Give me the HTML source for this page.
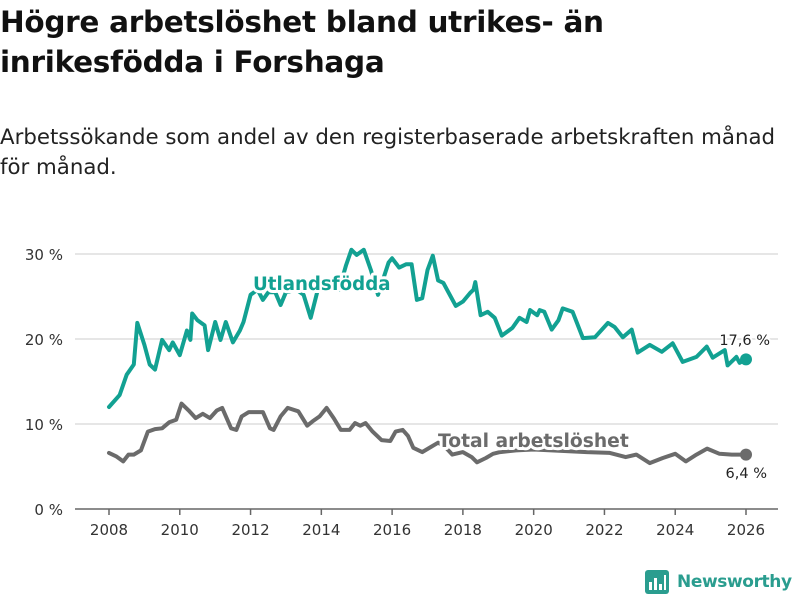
<!DOCTYPE html>
<html><head><meta charset="utf-8"><style>
body{margin:0;background:#fff;font-family:"Liberation Sans","DejaVu Sans",sans-serif;color:#111}
.t{position:absolute;left:0;top:2px;font-family:"DejaVu Sans",sans-serif;font-weight:bold;font-size:29.5px;line-height:40px;letter-spacing:-0.3px;white-space:nowrap}
.s{position:absolute;left:0;top:123px;font-family:"DejaVu Sans",sans-serif;font-size:21.3px;line-height:30px;color:#222;white-space:nowrap}
</style></head><body>
<div class="t">Högre arbetslöshet bland utrikes- än<br>inrikesfödda i Forshaga</div>
<div class="s">Arbetssökande som andel av den registerbaserade arbetskraften månad<br>för månad.</div>
<svg id="c" width="800" height="600" style="position:absolute;left:0;top:0"></svg>
<script>
const utlYears=[2008.0,2008.3,2008.5,2008.7,2008.8,2009.0,2009.15,2009.3,2009.5,2009.7,2009.8,2010.0,2010.2,2010.3,2010.35,2010.5,2010.7,2010.8,2011.0,2011.15,2011.3,2011.5,2011.7,2011.8,2012.0,2012.2,2012.35,2012.5,2012.7,2012.85,2013.0,2013.3,2013.5,2013.7,2013.9,2014.2,2014.5,2014.7,2014.85,2015.0,2015.2,2015.4,2015.6,2015.9,2016.0,2016.2,2016.4,2016.55,2016.7,2016.85,2017.0,2017.15,2017.3,2017.45,2017.55,2017.8,2018.0,2018.2,2018.3,2018.35,2018.5,2018.7,2018.9,2019.1,2019.4,2019.6,2019.8,2019.9,2020.1,2020.17,2020.3,2020.51,2020.7,2020.82,2021.1,2021.39,2021.73,2022.1,2022.29,2022.52,2022.77,2022.94,2023.28,2023.62,2023.93,2024.21,2024.6,2024.89,2025.06,2025.4,2025.48,2025.73,2025.82,2026.0];
const utlValues=[12.0,13.4,15.8,17,21.9,19.3,17,16.4,19.9,18.7,19.6,18.1,21,19.9,23,22.2,21.6,18.7,22,19.9,22,19.6,21,22,25.2,25.8,24.6,25.5,25.5,24,25.5,25.8,25.2,22.5,25.8,25.8,25.8,28.7,30.5,29.9,30.5,28.1,25.2,29,29.5,28.4,28.8,28.8,24.6,24.8,28.1,29.8,26.9,26.6,25.8,23.9,24.4,25.4,25.8,26.7,22.8,23.2,22.5,20.4,21.3,22.5,22,23.4,22.8,23.4,23.2,21.1,22.2,23.6,23.2,20.1,20.2,21.9,21.4,20.2,21.1,18.4,19.3,18.5,19.5,17.3,17.9,19.1,17.8,18.7,16.9,17.9,17.2,17.6];
const totYears=[2008.0,2008.2,2008.4,2008.55,2008.7,2008.9,2009.1,2009.3,2009.5,2009.7,2009.9,2010.05,2010.25,2010.45,2010.65,2010.85,2011.05,2011.2,2011.45,2011.6,2011.75,2011.95,2012.15,2012.35,2012.55,2012.65,2012.85,2013.05,2013.35,2013.6,2013.75,2013.95,2014.15,2014.35,2014.55,2014.8,2014.95,2015.1,2015.25,2015.45,2015.7,2015.95,2016.1,2016.3,2016.45,2016.6,2016.85,2017.1,2017.3,2017.5,2017.7,2018.0,2018.25,2018.4,2018.65,2018.85,2019.05,2019.5,2020.0,2020.5,2021.0,2021.5,2022.15,2022.6,2022.9,2023.28,2023.65,2024.0,2024.3,2024.6,2024.9,2025.25,2025.6,2026.0];
const totValues=[6.6,6.2,5.6,6.4,6.4,6.9,9.1,9.4,9.5,10.2,10.5,12.4,11.6,10.7,11.2,10.7,11.6,11.9,9.5,9.3,10.9,11.4,11.4,11.4,9.5,9.3,10.9,11.9,11.5,9.8,10.3,10.9,11.9,10.7,9.3,9.3,10.1,9.8,10.1,9.1,8.1,8.0,9.1,9.3,8.6,7.2,6.7,7.3,7.8,7.3,6.4,6.7,6.1,5.5,6.0,6.5,6.7,6.9,7.0,6.9,6.8,6.7,6.6,6.1,6.4,5.4,6.0,6.5,5.6,6.4,7.1,6.5,6.4,6.4];
const yTicks=[0,10,20,30];
const yTickLabels=["0 %","10 %","20 %","30 %"];
const xTicks=[2008,2010,2012,2014,2016,2018,2020,2022,2024,2026];
const NS='http://www.w3.org/2000/svg';
const svg=document.getElementById('c');
const X=v=>109+(v-2008)*(746-109)/18;
const Y=v=>509-v*8.5;
function mk(t,a,p){const e=document.createElementNS(NS,t);for(const k in a)e.setAttribute(k,a[k]);(p||svg).appendChild(e);return e;}
yTicks.forEach((v,i)=>{
  const g=mk('line',{x1:75,x2:778,y1:Y(v),y2:Y(v),stroke:v===0?'#666':'#ddd','stroke-width':1.5});
  
  
  const t=mk('text',{x:63,y:Y(v)+6,'text-anchor':'end','font-size':15,fill:'#333','font-family':'DejaVu Sans, sans-serif'});
  t.textContent=yTickLabels[i];
  
  
});
xTicks.forEach(v=>{
  const l=mk('line',{x1:X(v),x2:X(v),y1:509,y2:515,stroke:'#666','stroke-width':1.5});
  
  
  const t=mk('text',{x:X(v),y:535,'text-anchor':'middle','font-size':15,fill:'#333','font-family':'DejaVu Sans, sans-serif'});
  t.textContent=v;
  
  
});
function line(xs,ys,col,name){
  const d=xs.map((x,i)=>(i?'L':'M')+X(x).toFixed(1)+','+Y(ys[i]).toFixed(1)).join('');
  const p=mk('path',{d:d,fill:'none',stroke:col,'stroke-width':4,'stroke-linejoin':'round','stroke-linecap':'round'});
  
  
  const n=xs.length-1;
  const c=mk('circle',{cx:X(xs[n]),cy:Y(ys[n]),r:6,fill:col});
  
  
}
line(totYears,totValues,'#6b6b6b','total');
line(utlYears,utlValues,'#12a192','utlandsfodda');
function lab(txt,x,y,col,size,bold,name,anchor){
  const t=mk('text',{x:x,y:y,'font-size':size,fill:col,'font-weight':bold?'bold':'normal','font-family':'DejaVu Sans, sans-serif',stroke:'#fff','stroke-width':bold?6:4,'paint-order':'stroke','stroke-linejoin':'round','text-anchor':anchor||'start'});
  t.textContent=txt;
  
  
}
lab('Utlandsfödda',253,290,'#12a192',18.2,true,'utlandsfodda-label');
lab('Total arbetslöshet',438,447,'#6b6b6b',18.7,true,'total-label');
lab('17,6 %',770,345,'#222',14.5,false,'utlandsfodda-end-value','end');
lab('6,4 %',767,478,'#222',14.5,false,'total-end-value','end');
</script>
<div style="position:absolute;left:645px;top:569px;height:26px;display:flex;align-items:center">
 <svg width="24" height="24"><rect x="0" y="0" width="24" height="24" rx="3" fill="#2a9d8f"/><rect x="4" y="12" width="3" height="8" fill="#fff"/><rect x="9" y="8" width="3" height="12" fill="#fff"/><rect x="14" y="14" width="3" height="6" fill="#fff"/><rect x="19" y="5" width="2" height="15" fill="#fff"/></svg>
 <span style="font-family:'DejaVu Sans',sans-serif;font-weight:bold;font-size:17px;color:#2a9d8f;margin-left:8px;letter-spacing:-0.4px">Newsworthy</span>
</div>
</body></html>
